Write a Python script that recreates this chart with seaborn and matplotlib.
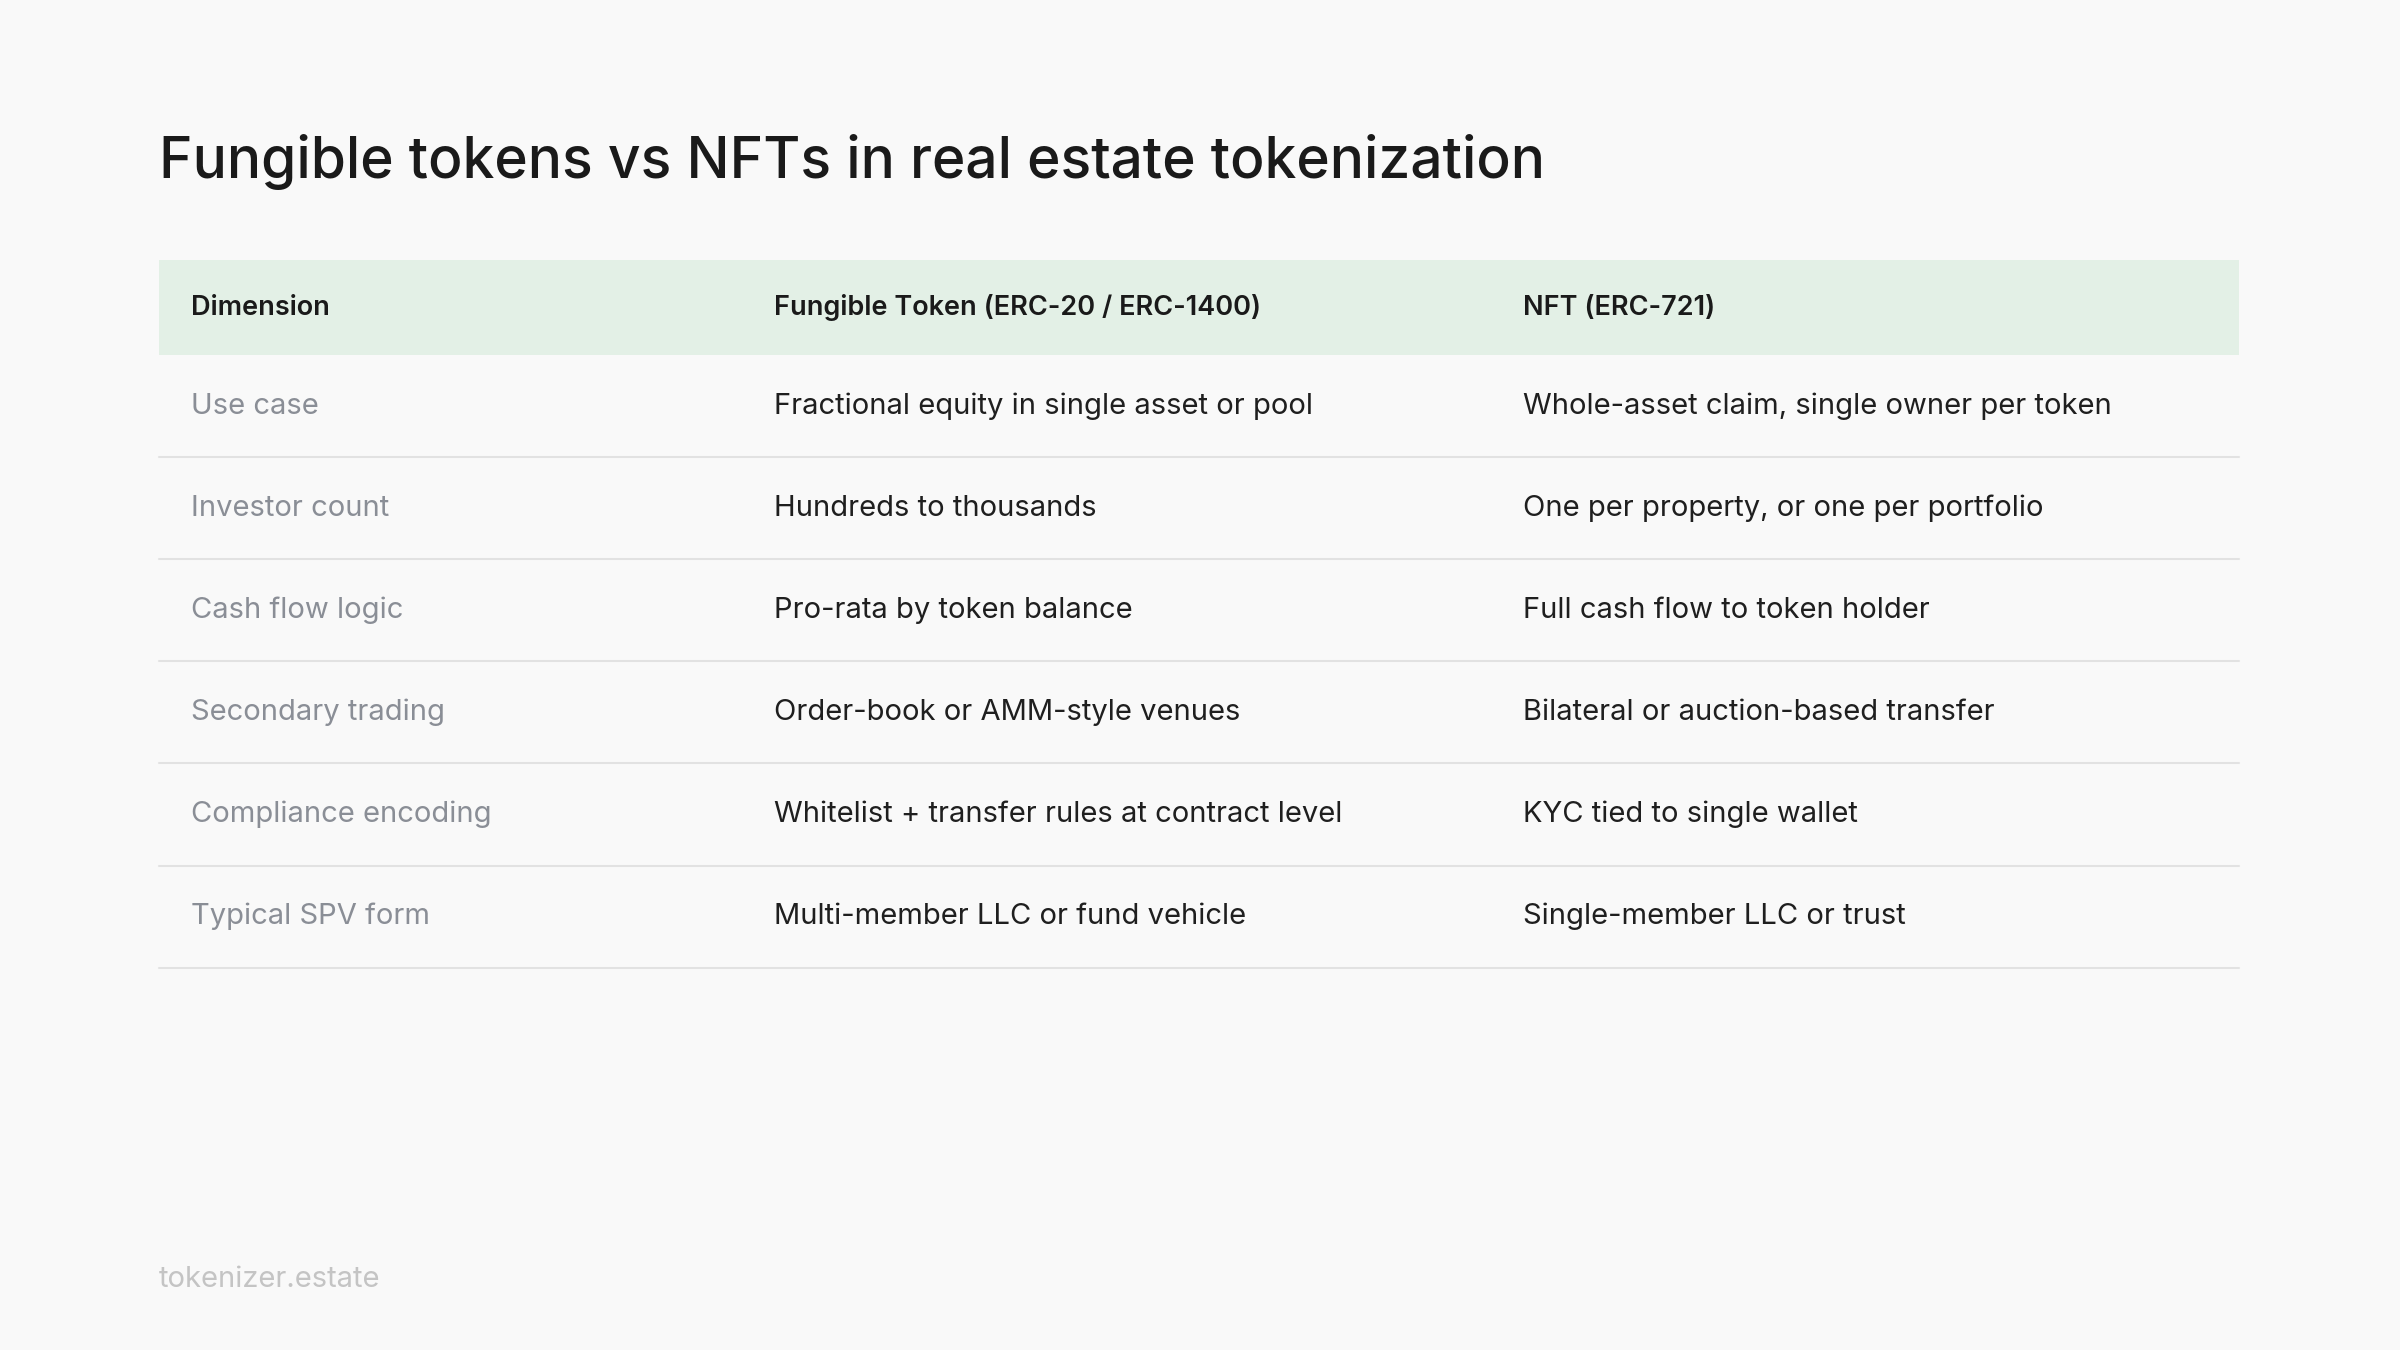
import matplotlib
matplotlib.use("Agg")
import matplotlib.pyplot as plt
import seaborn as sns

sns.set_theme(style="white")
plt.rcParams['font.family'] = ['Inter', 'DejaVu Sans']

title = "Fungible tokens vs NFTs in real estate tokenization"
headers = ["Dimension", "Fungible Token (ERC-20 / ERC-1400)", "NFT (ERC-721)"]
dimensions = ["Use case", "Investor count", "Cash flow logic", "Secondary trading",
              "Compliance encoding", "Typical SPV form"]
fungible = ["Fractional equity in single asset or pool", "Hundreds to thousands",
            "Pro-rata by token balance", "Order-book or AMM-style venues",
            "Whitelist + transfer rules at contract level", "Multi-member LLC or fund vehicle"]
nft = ["Whole-asset claim, single owner per token", "One per property, or one per portfolio",
       "Full cash flow to token holder", "Bilateral or auction-based transfer",
       "KYC tied to single wallet", "Single-member LLC or trust"]
footer = "tokenizer.estate"

bg = "#f9f9f9"
fig = plt.figure(figsize=(24, 13.5), dpi=100, facecolor=bg)
ax = fig.add_axes([0, 0, 1, 1])
ax.set_facecolor(bg)
W, H = 1568, 882
ax.set_xlim(0, W)
ax.set_ylim(H, 0)
ax.axis("off")

left, right = 104, 1463
col_x = [125, 506, 995]
head_top, head_bot = 170, 232
row_h = 66.7

ax.text(left, 106, title, fontsize=41, fontweight="medium", color="#1a1a1a", va="center")
ax.fill_between([left, right], head_top, head_bot, color="#e3f0e6", lw=0)
for x, h in zip(col_x, headers):
    ax.text(x, (head_top + head_bot) / 2, h, fontsize=19.5, fontweight="semibold",
            color="#1a1a1a", va="center")

for i, (d, f, n) in enumerate(zip(dimensions, fungible, nft)):
    cy = head_bot + row_h * (i + 0.5)
    ax.text(col_x[0], cy, d, fontsize=21, color="#8a8e96", va="center")
    ax.text(col_x[1], cy, f, fontsize=21, color="#1f1f1f", va="center")
    ax.text(col_x[2], cy, n, fontsize=21, color="#1f1f1f", va="center")
    yl = head_bot + row_h * (i + 1)
    ax.plot([left, right], [yl, yl], color="#e2e2e2", lw=1.5)

ax.text(left, 836, footer, fontsize=21, color="#c4c4c4", va="center")

fig.savefig("out.png", dpi=100, facecolor=bg)
